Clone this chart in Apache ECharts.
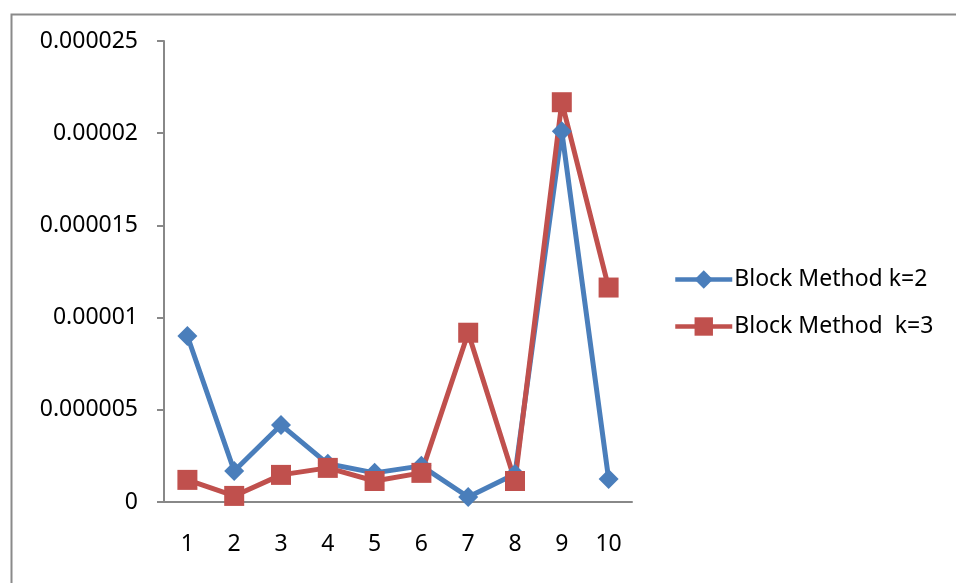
<!DOCTYPE html>
<html>
<head>
<meta charset="utf-8">
<script src="https://cdn.jsdelivr.net/npm/echarts@6/dist/echarts.min.js"></script>
<style>html,body{margin:0;padding:0;background:#fff;}#c{width:956px;height:583px;}</style>
</head>
<body>
<div id="c"></div>
<script>
var categories = ['1','2','3','4','5','6','7','8','9','10'];
var seriesK2Name = 'Block Method k=2';
var seriesK3Name = 'Block Method  k=3';
var seriesK2 = [9.0e-6, 1.68e-6, 4.18e-6, 2.07e-6, 1.58e-6, 1.96e-6, 0.27e-6, 1.52e-6, 20.1e-6, 1.25e-6];
var seriesK3 = [1.2e-6, 0.33e-6, 1.47e-6, 1.85e-6, 1.14e-6, 1.58e-6, 9.18e-6, 1.14e-6, 21.68e-6, 11.63e-6];
var yTickLabels = {0:'0', 5:'0.000005', 10:'0.00001', 15:'0.000015', 20:'0.00002', 25:'0.000025'};

var FONT = 'Noto Sans';
var FS = 23;
var chart = echarts.init(document.getElementById('c'), null, {renderer:'canvas'});
chart.setOption({
  animation: false,
  backgroundColor: '#fff',
  graphic: [{
    type: 'rect', left: 9, top: 12, z: -1,
    shape: {width: 1100, height: 800},
    style: {fill: 'none', stroke: '#8a8a8a', lineWidth: 2}
  }],
  grid: {left: 164, top: 41, right: 324, bottom: 81, containLabel: false},
  legend: {
    orient: 'vertical', left: 668, top: 263, itemGap: 24,
    itemWidth: 57, itemHeight: 23,
    lineStyle: {width: 4.5},
    textStyle: {fontFamily: FONT, fontSize: FS, color: '#000', padding: [0,0,0,-3]},
    data: [seriesK2Name, seriesK3Name]
  },
  xAxis: {
    type: 'category', data: categories, boundaryGap: true,
    axisLine: {lineStyle: {color: '#888', width: 2}},
    axisTick: {length: 8, lineStyle: {color: '#888', width: 2}},
    axisLabel: {fontFamily: FONT, fontSize: FS, color: '#000', margin: 31}
  },
  yAxis: {
    type: 'value', min: 0, max: 25e-6, interval: 5e-6,
    axisLine: {show: true, lineStyle: {color: '#888', width: 2}},
    axisTick: {show: true, length: 7, lineStyle: {color: '#888', width: 2}},
    splitLine: {show: false},
    axisLabel: {fontFamily: FONT, fontSize: FS, color: '#000', margin: 26,
      formatter: function(v){ var k = Math.round(v*1e6); return yTickLabels[k] !== undefined ? yTickLabels[k] : ''; }}
  },
  series: [{
    name: seriesK2Name, type: 'line', data: seriesK2,
    symbol: 'diamond', symbolSize: 20,
    lineStyle: {color: '#4a7ebb', width: 5},
    itemStyle: {color: '#4a7ebb'}
  }, {
    name: seriesK3Name, type: 'line', data: seriesK3,
    symbol: 'rect', symbolSize: 20,
    lineStyle: {color: '#c0504d', width: 5},
    itemStyle: {color: '#c0504d'}
  }]
});
</script>
</body>
</html>
